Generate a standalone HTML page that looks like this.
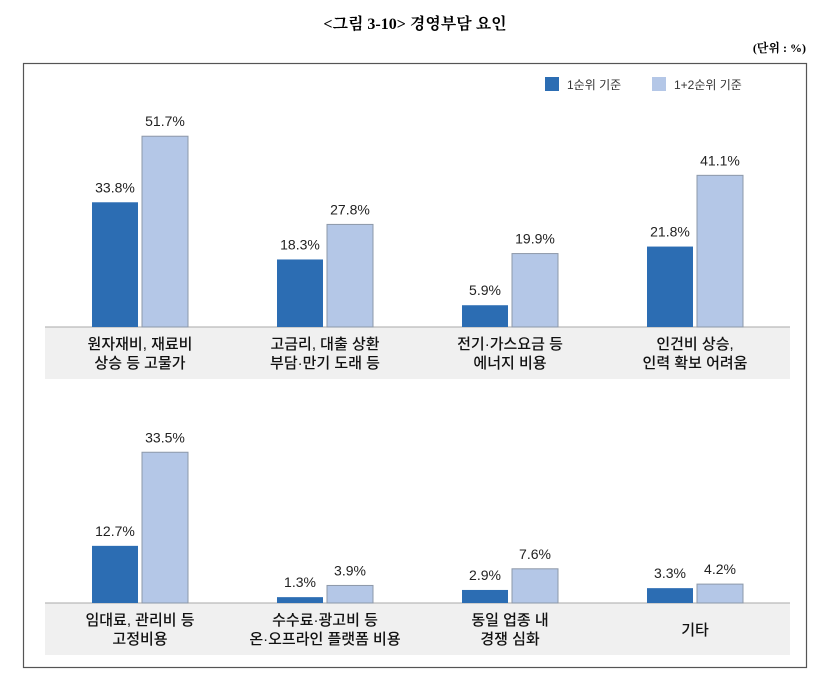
<!DOCTYPE html>
<html><head><meta charset="utf-8">
<style>
body{margin:0;background:#fff;width:830px;height:687px;overflow:hidden;font-family:"Liberation Sans","Noto Sans CJK KR",sans-serif;}
</style></head>
<body>
<svg id="chart" width="830" height="687" xmlns="http://www.w3.org/2000/svg">
<text x="415" y="29" text-anchor="middle" font-family="'Liberation Serif','Noto Serif CJK SC',serif" font-weight="bold" font-size="16">&lt;그림 3-10&gt; 경영부담 요인</text>
<text x="806" y="52" text-anchor="end" font-family="'Liberation Serif','Noto Serif CJK SC',serif" font-weight="bold" font-size="12">(단위 : %)</text>
<rect x="23.5" y="63.5" width="783" height="604" fill="none" stroke="#555" stroke-width="1.2"/>
<rect x="545" y="77" width="14" height="14" fill="#2c6db3"/>
<text x="567" y="89" font-size="12" fill="#333">1순위 기준</text>
<rect x="652" y="77" width="14" height="14" fill="#b4c7e7"/>
<text x="674" y="89" font-size="12" fill="#333">1+2순위 기준</text>
<g id="marks"></g>
</svg>
<script>
const catsTop=[["원자재비, 재료비","상승 등 고물가"],["고금리, 대출 상환","부담·만기 도래 등"],["전기·가스요금 등","에너지 비용"],["인건비 상승,","인력 확보 어려움"]];
const rank1Top=[33.8,18.3,5.9,21.8];
const rank12Top=[51.7,27.8,19.9,41.1];
const catsBot=[["임대료, 관리비 등","고정비용"],["수수료·광고비 등","온·오프라인 플랫폼 비용"],["동일 업종 내","경쟁 심화"],["기타"]];
const rank1Bot=[12.7,1.3,2.9,3.3];
const rank12Bot=[33.5,3.9,7.6,4.2];

const NS="http://www.w3.org/2000/svg";
const g=document.getElementById('marks');
function mk(t,a){const e=document.createElementNS(NS,t);for(const k in a)e.setAttribute(k,a[k]);g.appendChild(e);return e;}
function panel(cats,s1,s2,base,scale,p){
  const band=mk('rect',{x:45,y:base,width:745,height:52,fill:'#f0f0f0'});
  
  
  const ln=mk('line',{x1:45,x2:790,y1:base,y2:base,stroke:'#aaa'});
  
  
  const x=i=>92+i*185;
  const y=v=>base-v*scale;
  cats.forEach((c,i)=>{
    [[s1,'#2c6db3','none',0,'rank1'],[s2,'#b4c7e7','#8d98a8',50,'rank12']].forEach(([s,f,st,dx,nm])=>{
      const v=s[i];
      const r=mk('rect',{x:x(i)+dx,y:y(v),width:46,height:v*scale,fill:f,stroke:st,'stroke-width':1});
      
      
      const t=mk('text',{x:x(i)+dx+23,y:y(v)-10,'text-anchor':'middle','font-size':14,'font-weight':500,fill:'#222'});
      t.textContent=v.toFixed(1)+'%';
      
      
    });
    const cx=x(i)+48;
    const y0=c.length===1?base+32:base+22;
    c.forEach((line,j)=>{
      const t=mk('text',{x:cx,y:y0+j*19,'text-anchor':'middle','font-size':15,'font-weight':500,fill:'#111'});
      t.textContent=line;
      
      
    });
  });
}
panel(catsTop,rank1Top,rank12Top,327,3.69,'top');
panel(catsBot,rank1Bot,rank12Bot,603,4.5,'bottom');
</script>
</body></html>
